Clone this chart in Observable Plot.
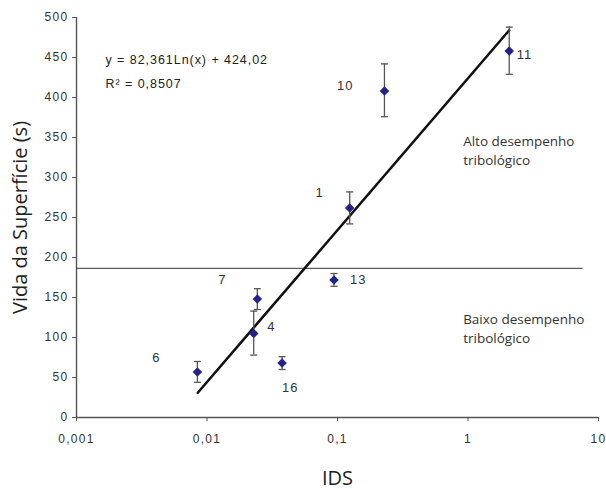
<!DOCTYPE html>
<html>
<head>
<meta charset="utf-8">
<script src="https://cdn.jsdelivr.net/npm/d3@7"></script>
<script src="https://cdn.jsdelivr.net/npm/@observablehq/plot@0.6"></script>
<style>
  html, body { margin: 0; padding: 0; background: #fff; }
  #chart svg { display: block; }
  #chart g[aria-label="y-axis tick label"] text,
  #chart g[aria-label="x-axis tick label"] text { letter-spacing: 1.3px; }
</style>
</head>
<body>
<div id="chart"></div>
<script>
// ---- data ----
const samples  = ["6", "7", "4", "16", "13", "1", "10", "11"];
const ids      = [0.00844, 0.0243, 0.0228, 0.0376, 0.094, 0.124, 0.229, 2.07];
const vida     = [57, 148, 105, 68, 172, 262, 408, 458];
const errLow   = [44, 135, 78, 60, 164, 242, 376, 429];
const errHigh  = [70, 161, 133, 76, 180, 282, 442, 488];
// label anchor positions (data units)
const labelX   = [0.0041, 0.0131, 0.0311, 0.0435, 0.1443, 0.0729, 0.1147, 2.71];
const labelY   = [75, 172, 113, 37, 172, 281, 415, 453];

const trendX = [0.0085, 2.07];
const trendY = [31, 484];
const thresholdY = 186.5;
const thresholdX = [0.001, 7.6];

const xTicks = [0.001, 0.01, 0.1, 1, 10];
const xTickLabels = ["0,001", "0,01", "0,1", "1", "10"];
const yTicks = [0, 50, 100, 150, 200, 250, 300, 350, 400, 450, 500];

const equation = ["y = 82,361Ln(x) + 424,02", "R² = 0,8507"];
const regions = [
  {text: "Alto desempenho\ntribológico", x: 0.918, y: 335},
  {text: "Baixo desempenho\ntribológico", x: 0.918, y: 113}
];

// ---- build table ----
const points = samples.map((s, i) => ({
  s, x: ids[i], y: vida[i], lo: errLow[i], hi: errHigh[i], lx: labelX[i], ly: labelY[i]
}));
const trend = trendX.map((x, i) => ({x, y: trendY[i]}));
const xLabelOf = new Map(xTicks.map((t, i) => [t, xTickLabels[i]]));

const cap = {draw(ctx) { ctx.moveTo(-3.5, 0); ctx.lineTo(3.5, 0); }};
const axisColor = "#555";
const tickFont = "'Liberation Sans Narrow', 'Liberation Sans', Arial, sans-serif";
const textFont = "'Open Sans', 'Noto Sans', sans-serif";

const chart = Plot.plot({
  width: 606,
  height: 489,
  marginLeft: 76,
  marginRight: 8,
  marginTop: 17,
  marginBottom: 72,
  style: {fontFamily: tickFont, fontSize: "12px", color: "#333", background: "#fff"},
  x: {type: "log", domain: [0.001, 10]},
  y: {domain: [0, 500]},
  marks: [
    // axis lines
    Plot.ruleX([0.001], {y1: 0, y2: 500, stroke: axisColor, strokeWidth: 1.4}),
    Plot.ruleY([0], {x1: 0.001, x2: 10, stroke: axisColor, strokeWidth: 1.4}),
    Plot.axisY({ticks: yTicks, tickSize: 4, tickPadding: 4, stroke: axisColor,
      label: null, fontSize: 12}),
    Plot.axisX({ticks: xTicks, tickFormat: d => xLabelOf.get(d) ?? "", tickSize: 4, tickPadding: 13,
      stroke: axisColor, label: null, fontSize: 12}),
    // axis titles
    Plot.text(["IDS"], {frameAnchor: "bottom", dy: 67, text: d => d,
      fontFamily: textFont, fontSize: 20, fill: "#222"}),
    Plot.text(["Vida da Superfície (s)"], {frameAnchor: "left", textAnchor: "middle", dx: -56, rotate: -90,
      text: d => d, fontFamily: textFont, fontSize: 20, fill: "#222"}),
    // threshold line
    Plot.ruleY([thresholdY], {x1: thresholdX[0], x2: thresholdX[1], stroke: "#333", strokeWidth: 1}),
    // trend line
    Plot.line(trend, {x: "x", y: "y", stroke: "#111", strokeWidth: 2.5}),
    // error bars
    Plot.ruleX(points, {x: "x", y1: "lo", y2: "hi", stroke: "#555", strokeWidth: 1.3}),
    Plot.dot(points, {x: "x", y: "lo", symbol: cap, fill: "none", stroke: "#555", strokeWidth: 1.3}),
    Plot.dot(points, {x: "x", y: "hi", symbol: cap, fill: "none", stroke: "#555", strokeWidth: 1.3}),
    // markers
    Plot.dot(points, {x: "x", y: "y", symbol: "diamond2", r: 4.3, fill: "#22228a", stroke: "none"}),
    // point labels
    Plot.text(points, {x: "lx", y: "ly", text: "s", fontSize: 13, fill: "#333", fontFamily: tickFont}),
    // equation
    Plot.text([equation.join("\n")], {frameAnchor: "top-left", dx: 29, dy: 30, text: d => d,
      fontSize: 12.5, fill: "#222", lineHeight: 1.9, fontFamily: tickFont}),
    // region labels
    Plot.text(regions, {x: "x", y: "y", text: "text", textAnchor: "start", fontFamily: textFont,
      fontSize: 13.5, fill: "#333", lineHeight: 1.4})
  ]
});
document.getElementById("chart").appendChild(chart);
// letter spacing for the equation and point labels (condensed, spaced look of the original)
d3.select(chart).selectAll("text")
  .filter(function () { return /^[0-9]+$/.test(this.textContent) && !this.closest('g[aria-label$="tick label"]'); })
  .style("letter-spacing", "1.1px");
d3.select(chart).selectAll("text")
  .filter(function () { return this.textContent.includes("82,361"); })
  .style("letter-spacing", "0.95px");
</script>
</body>
</html>
